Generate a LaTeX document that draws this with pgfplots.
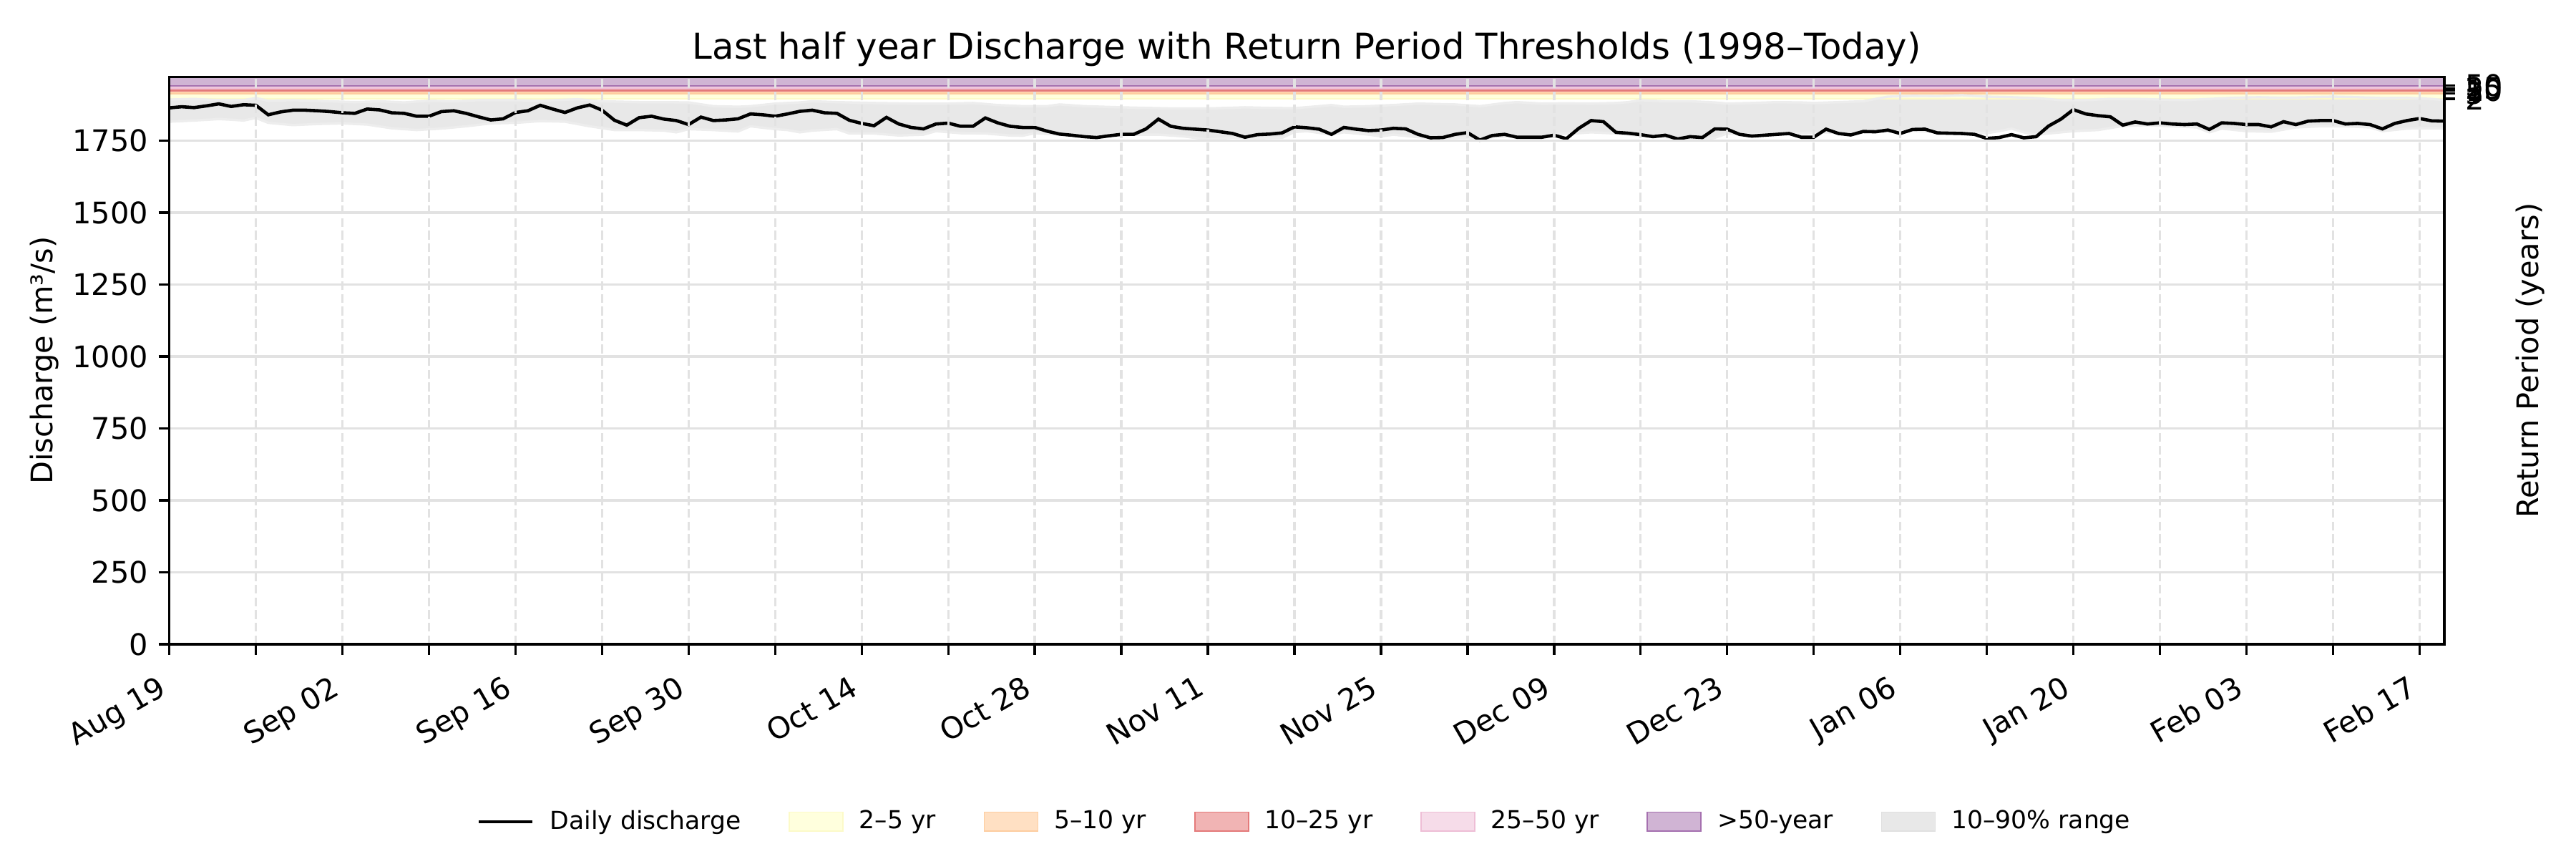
\documentclass[border=0pt]{standalone}
\usepackage{fontspec}
\setmainfont{DejaVu Sans}
\usepackage{pgfplots}
\usepackage{pgfplotstable}
\pgfplotsset{compat=1.18}
\usepgfplotslibrary{fillbetween}

\definecolor{rp2fill}{RGB}{255,255,221}
\definecolor{rp2edge}{RGB}{252,250,200}
\definecolor{rp5fill}{RGB}{255,224,195}
\definecolor{rp5edge}{RGB}{253,205,160}
\definecolor{rp10fill}{RGB}{241,180,180}
\definecolor{rp10edge}{RGB}{228,122,122}
\definecolor{rp25fill}{RGB}{246,220,233}
\definecolor{rp25edge}{RGB}{238,190,214}
\definecolor{rp50fill}{RGB}{208,180,212}
\definecolor{rp50edge}{RGB}{165,112,175}
\definecolor{gridgray}{RGB}{226,226,226}

\pgfplotsset{
  patch legend/.style={legend image code/.code={\draw[##1] (0bp,-3.2bp) rectangle (18bp,3.2bp);}},
  hline legend/.style={legend image code/.code={\draw[##1] (0bp,0bp) -- (18bp,0bp);}},
}

% daily discharge, day 0 = Aug 19
\pgfplotstableread[row sep=\\]{
day q\\
0 1864\\ 1 1868\\ 2 1865\\ 3 1871\\ 4 1878\\ 5 1869\\ 6 1875\\ 7 1873\\ 8 1840\\ 9 1850\\
10 1856\\ 11 1856\\ 12 1854\\ 13 1851\\ 14 1847\\ 15 1845\\ 16 1860\\ 17 1857\\ 18 1847\\ 19 1845\\
20 1835\\ 21 1835\\ 22 1851\\ 23 1854\\ 24 1845\\ 25 1833\\ 26 1822\\ 27 1826\\ 28 1848\\ 29 1854\\
30 1873\\ 31 1860\\ 32 1848\\ 33 1864\\ 34 1874\\ 35 1856\\ 36 1821\\ 37 1804\\ 38 1830\\ 39 1835\\
40 1825\\ 41 1820\\ 42 1806\\ 43 1832\\ 44 1820\\ 45 1822\\ 46 1826\\ 47 1843\\ 48 1840\\ 49 1835\\
50 1843\\ 51 1852\\ 52 1856\\ 53 1847\\ 54 1845\\ 55 1821\\ 56 1810\\ 57 1802\\ 58 1831\\ 59 1808\\
60 1796\\ 61 1791\\ 62 1808\\ 63 1811\\ 64 1800\\ 65 1800\\ 66 1829\\ 67 1812\\ 68 1800\\ 69 1796\\
70 1796\\ 71 1783\\ 72 1773\\ 73 1769\\ 74 1764\\ 75 1761\\ 76 1767\\ 77 1772\\ 78 1772\\ 79 1791\\
80 1825\\ 81 1800\\ 82 1793\\ 83 1790\\ 84 1787\\ 85 1781\\ 86 1775\\ 87 1762\\ 88 1771\\ 89 1773\\
90 1777\\ 91 1798\\ 92 1795\\ 93 1790\\ 94 1772\\ 95 1796\\ 96 1790\\ 97 1785\\ 98 1787\\ 99 1793\\
100 1791\\ 101 1772\\ 102 1760\\ 103 1761\\ 104 1772\\ 105 1778\\ 106 1752\\ 107 1768\\ 108 1772\\ 109 1762\\
110 1762\\ 111 1762\\ 112 1769\\ 113 1757\\ 114 1793\\ 115 1820\\ 116 1816\\ 117 1779\\ 118 1776\\ 119 1771\\
120 1764\\ 121 1769\\ 122 1756\\ 123 1764\\ 124 1761\\ 125 1791\\ 126 1790\\ 127 1772\\ 128 1766\\ 129 1769\\
130 1772\\ 131 1775\\ 132 1762\\ 133 1762\\ 134 1790\\ 135 1775\\ 136 1770\\ 137 1782\\ 138 1781\\ 139 1787\\
140 1775\\ 141 1789\\ 142 1790\\ 143 1777\\ 144 1776\\ 145 1775\\ 146 1772\\ 147 1758\\ 148 1761\\ 149 1771\\
150 1760\\ 151 1764\\ 152 1801\\ 153 1825\\ 154 1858\\ 155 1843\\ 156 1837\\ 157 1833\\ 158 1804\\ 159 1815\\
160 1808\\ 161 1812\\ 162 1808\\ 163 1806\\ 164 1808\\ 165 1789\\ 166 1812\\ 167 1810\\ 168 1806\\ 169 1806\\
170 1798\\ 171 1816\\ 172 1806\\ 173 1818\\ 174 1820\\ 175 1820\\ 176 1808\\ 177 1810\\ 178 1806\\ 179 1791\\
180 1810\\ 181 1820\\ 182 1827\\ 183 1819\\ 184 1818\\
}\dailyflow

% 90th percentile
\pgfplotstableread[row sep=\\]{
day q\\
0 1893\\ 2 1895\\ 4 1891\\ 6 1891\\ 7 1898\\ 8 1889\\ 10 1891\\ 13 1887\\ 15 1884\\ 17 1887\\
19 1883\\ 21 1889\\ 23 1887\\ 25 1891\\ 28 1891\\ 30 1889\\ 33 1894\\ 35 1887\\ 38 1884\\ 40 1884\\
42 1883\\ 44 1870\\ 46 1868\\ 47 1870\\ 49 1879\\ 51 1883\\ 52 1887\\ 54 1884\\ 57 1881\\ 60 1879\\
63 1879\\ 65 1881\\ 67 1874\\ 69 1870\\ 71 1870\\ 72 1876\\ 74 1870\\ 77 1866\\ 79 1864\\ 81 1862\\
84 1862\\ 87 1866\\ 89 1864\\ 91 1863\\ 93 1870\\ 94 1874\\ 95 1868\\ 97 1870\\ 99 1874\\ 101 1879\\
104 1876\\ 106 1870\\ 108 1881\\ 109 1884\\ 111 1879\\ 113 1880\\ 115 1879\\ 117 1881\\ 118 1884\\ 119 1891\\
121 1887\\ 123 1887\\ 125 1883\\ 126 1879\\ 128 1881\\ 130 1884\\ 132 1883\\ 133 1881\\ 135 1884\\ 137 1887\\
139 1903\\ 141 1906\\ 143 1905\\ 145 1908\\ 147 1903\\ 149 1901\\ 151 1898\\ 153 1891\\ 155 1891\\ 157 1895\\
159 1895\\ 161 1893\\ 163 1891\\ 165 1895\\ 167 1899\\ 169 1901\\ 171 1899\\ 173 1901\\ 175 1903\\ 177 1901\\
179 1898\\ 181 1899\\ 183 1895\\ 184 1891\\
}\pninety

% 10th percentile
\pgfplotstableread[row sep=\\]{
day q\\
0 1816\\ 2 1820\\ 4 1825\\ 5 1823\\ 6 1820\\ 7 1829\\ 8 1812\\ 10 1804\\ 12 1808\\ 14 1810\\
16 1806\\ 18 1793\\ 20 1787\\ 22 1792\\ 24 1800\\ 26 1810\\ 28 1812\\ 30 1818\\ 32 1816\\ 34 1800\\
36 1787\\ 38 1787\\ 40 1785\\ 41 1779\\ 42 1790\\ 44 1787\\ 46 1782\\ 47 1800\\ 49 1790\\ 50 1787\\
51 1779\\ 52 1785\\ 54 1790\\ 55 1775\\ 57 1775\\ 59 1768\\ 61 1771\\ 62 1783\\ 64 1776\\ 66 1775\\
68 1768\\ 69 1767\\ 70 1776\\ 72 1771\\ 74 1767\\ 76 1768\\ 78 1771\\ 80 1771\\ 82 1765\\ 84 1754\\
86 1760\\ 88 1758\\ 90 1760\\ 91 1780\\ 92 1783\\ 94 1771\\ 95 1779\\ 97 1771\\ 98 1765\\ 99 1771\\
101 1762\\ 103 1758\\ 105 1760\\ 106 1754\\ 107 1762\\ 109 1767\\ 111 1767\\ 113 1775\\ 114 1776\\ 115 1779\\
117 1775\\ 119 1767\\ 121 1762\\ 122 1757\\ 124 1754\\ 125 1760\\ 126 1775\\ 128 1771\\ 130 1775\\ 132 1775\\
134 1779\\ 136 1775\\ 137 1778\\ 139 1783\\ 141 1785\\ 143 1779\\ 145 1781\\ 147 1776\\ 148 1783\\ 149 1792\\
150 1779\\ 151 1771\\ 152 1775\\ 154 1783\\ 156 1787\\ 158 1801\\ 160 1804\\ 162 1800\\ 164 1796\\ 165 1779\\
166 1792\\ 168 1783\\ 170 1781\\ 172 1796\\ 174 1800\\ 176 1800\\ 178 1796\\ 179 1783\\ 181 1792\\ 183 1793\\
184 1792\\
}\pten

\begin{document}
\begin{tikzpicture}
% base axis: threshold bands, percentile range, grid, left and bottom ticks
\begin{axis}[
    at={(56.8bp,72bp)}, anchor=south west,
    width=763bp, height=190.15bp, scale only axis,
    xmin=0, xmax=184, ymin=0, ymax=1971,
    xtick={0,7,...,182},
    xticklabels={Aug 19,,Sep 02,,Sep 16,,Sep 30,,Oct 14,,Oct 28,,Nov 11,,Nov 25,,Dec 09,,Dec 23,,Jan 06,,Jan 20,,Feb 03,,Feb 17},
    ytick={0,250,...,1750},
    tick pos=left, tick align=outside,
    major tick length=3.6bp,
    tick style={black, line width=0.8bp},
    axis line style={black, line width=0.8bp},
    xmajorgrids, ymajorgrids,
    x grid style={gridgray, line width=0.8bp, dash pattern=on 2.96bp off 1.28bp},
    y grid style={gridgray, line width=0.8bp},
    axis on top,
    /pgf/number format/assume math mode=true,
    /pgf/number format/1000 sep={},
    tick label style={font=\fontsize{10}{12}\selectfont},
    xticklabel style={rotate=30, anchor=north east, xshift=-3.5bp},
    title={Last half year Discharge with Return Period Thresholds (1998–Today)},
    title style={at={(0.5,1)}, anchor=base, yshift=0bp, font=\fontsize{12}{14}\selectfont},
    ylabel={Discharge (m³/s)},
    ylabel style={at={(axis description cs:-0.0549,0.5)}, anchor=center, font=\fontsize{10}{12}\selectfont},
]
\addplot[fill=rp2fill, draw=rp2edge, line width=0.6bp] coordinates {(0,1896) (184,1896) (184,1914) (0,1914) (0,1896)};
\addplot[fill=rp5fill, draw=rp5edge, line width=0.6bp] coordinates {(0,1914) (184,1914) (184,1924) (0,1924) (0,1914)};
\addplot[fill=rp10fill, draw=rp10edge, line width=0.6bp] coordinates {(0,1924) (184,1924) (184,1932) (0,1932) (0,1924)};
\addplot[fill=rp25fill, draw=rp25edge, line width=0.6bp] coordinates {(0,1932) (184,1932) (184,1941) (0,1941) (0,1932)};
\addplot[fill=rp50fill, draw=rp50edge, line width=0.6bp] coordinates {(0,1941) (184,1941) (184,1971) (0,1971) (0,1941)};

\addplot[name path=q90, draw=black!7, line width=0.8bp] table[x=day, y=q] {\pninety};
\addplot[name path=q10, draw=black!7, line width=0.8bp] table[x=day, y=q] {\pten};
\addplot[fill=black, fill opacity=0.09, draw=none] fill between[of=q90 and q10];
\end{axis}

% overlay axis: discharge line, right-hand return period ticks, legend
\begin{axis}[
    at={(56.8bp,72bp)}, anchor=south west,
    width=763bp, height=190.15bp, scale only axis,
    xmin=0, xmax=184, ymin=0, ymax=1971,
    axis x line=none, axis y line*=right,
    ytick={1896,1914,1924,1932,1941}, yticklabels={2,5,10,25,50},
    tick align=outside,
    major tick length=3.6bp,
    tick style={black, line width=0.8bp},
    axis line style={black, line width=0.8bp},
    /pgf/number format/assume math mode=true,
    tick label style={font=\fontsize{10}{12}\selectfont},
    ylabel={Return Period (years)},
    ylabel style={at={(axis description cs:1.0377,0.5)}, anchor=center, font=\fontsize{10}{12}\selectfont},
    legend style={at={(0.5,-0.313)}, anchor=center, draw=none, fill=none,
        font=\fontsize{8.33}{10}\selectfont, legend columns=7,
        /tikz/every odd column/.append style={column sep=3.3bp},
        /tikz/every even column/.append style={column sep=14bp}},
    legend cell align=left,
]
\addplot[black, line width=1.1bp, forget plot] table[x=day, y=q] {\dailyflow};

\addlegendimage{hline legend, black, line width=1.1bp}
\addlegendentry{Daily discharge}
\addlegendimage{patch legend, fill=rp2fill, draw=rp2edge}
\addlegendentry{2–5 yr}
\addlegendimage{patch legend, fill=rp5fill, draw=rp5edge}
\addlegendentry{5–10 yr}
\addlegendimage{patch legend, fill=rp10fill, draw=rp10edge}
\addlegendentry{10–25 yr}
\addlegendimage{patch legend, fill=rp25fill, draw=rp25edge}
\addlegendentry{25–50 yr}
\addlegendimage{patch legend, fill=rp50fill, draw=rp50edge}
\addlegendentry{>50-year}
\addlegendimage{patch legend, fill=black!9, draw=black!12}
\addlegendentry{10–90\% range}
\end{axis}
\path[use as bounding box] (0,0) rectangle (864bp,288bp);
\end{tikzpicture}
\end{document}
